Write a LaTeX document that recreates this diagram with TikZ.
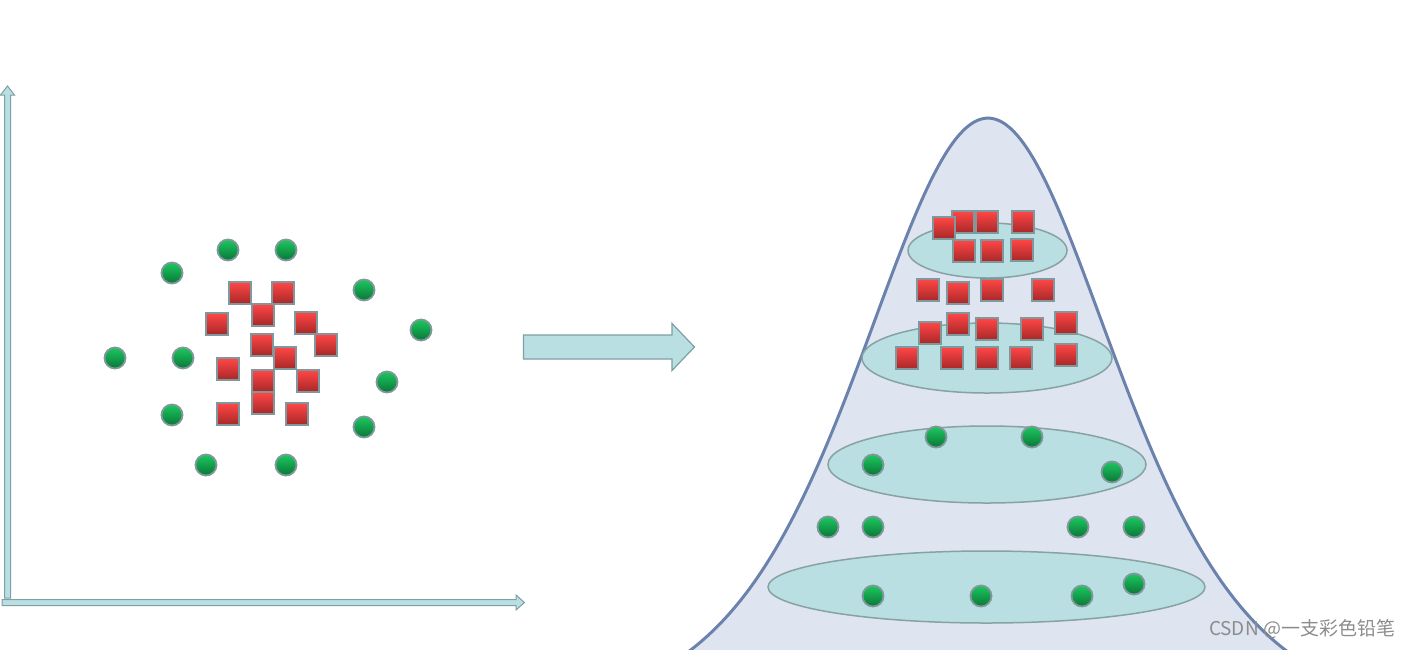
\documentclass[tikz,border=0pt]{standalone}
\usepackage{fontspec}
\newfontfamily\cjk{Noto Sans CJK SC}
\definecolor{axfill}{RGB}{185,223,226}
\definecolor{axline}{RGB}{125,160,165}
\definecolor{bellfill}{RGB}{222,228,240}
\definecolor{bellline}{RGB}{106,130,172}
\definecolor{ellfill}{RGB}{185,223,226}
\definecolor{ellline}{RGB}{135,162,162}
\definecolor{gtop}{RGB}{28,200,95}
\definecolor{gbot}{RGB}{10,118,55}
\definecolor{rtop}{RGB}{255,70,70}
\definecolor{rbot}{RGB}{168,40,40}
\definecolor{markline}{RGB}{128,152,155}
\definecolor{wm}{RGB}{140,140,140}
\tikzset{
  dot/.style={circle, minimum size=21pt, inner sep=0pt, draw=markline, line width=1.8pt, top color=gtop, bottom color=gbot},
  sq/.style={rectangle, minimum size=21.5pt, inner sep=0pt, draw=markline, line width=1.8pt, top color=rtop, bottom color=rbot},
  blockarrow/.style={fill=axfill, draw=axline, line width=1pt, line join=miter},
  ell/.style={fill=ellfill, draw=ellline, line width=1.5pt},
}
\begin{document}
\begin{tikzpicture}[x=1pt,y=-1pt]
\useasboundingbox (0,0) rectangle (1413,649);
\clip (0,0) rectangle (1413,649);
% axes
\draw[blockarrow] (4.5,598) -- (4.5,95) -- (0.5,95) -- (7.5,86) -- (14.5,95) -- (10.5,95) -- (10.5,598) -- cycle;
\draw[blockarrow] (2,599.5) -- (516,599.5) -- (516,595) -- (524.5,602.5) -- (516,610) -- (516,605.5) -- (2,605.5) -- cycle;
% left scatter: circles
\foreach \x/\y [count=\i] in {228/250,286/250,172/273,364/290,421/330,115/358,183/358,387/382,172/415,364/427,206/465,286/465}
  \node[dot] (lc\i) at (\x,\y) {};
% left scatter: squares
\foreach \x/\y [count=\i] in {240/293,283/293,263/315,217/324,306/323,326/345,262/345,285/358,228/369,263/381,308/381,263/403,228/414,297/414}
  \node[sq] (ls\i) at (\x,\y) {};
% big arrow
\draw[blockarrow, line width=1.2pt] (523.5,335) -- (672,335) -- (672,323.5) -- (694.5,347) -- (672,370.5) -- (672,359) -- (523.5,359) -- cycle;
% bell curve
\path[fill=bellfill, draw=bellline, line width=3pt]
  plot[domain=-345:345, samples=241, smooth] ({988+\x},{720-2408/((exp(\x/171)+exp(-\x/171))^2)});
% ellipses
\draw[ell] (987.5,250.5) ellipse [x radius=79.5, y radius=27.5];
\draw[ell] (987,358) ellipse [x radius=125, y radius=35];
\draw[ell] (987,464.5) ellipse [x radius=159, y radius=38.5];
\draw[ell] (986.5,587) ellipse [x radius=218.5, y radius=36];
% bell squares
\foreach \x/\y [count=\i] in {963/222,987/222,1023/222,944/228,964/251,992/251,1022/250,928/290,958/293,992/290,1043/290,958/324,930/333,987/329,1032/329,1066/323,907/358,952/358,987/358,1021/358,1066/355}
  \node[sq] (bs\i) at (\x,\y) {};
% bell circles
\foreach \x/\y [count=\i] in {936/437,1032/437,873/465,1112/472,828/527,873/527,1078/527,1134/527,873/596,981/596,1082/596,1134/584}
  \node[dot] (bc\i) at (\x,\y) {};
% watermark
\node[text=wm, font=\cjk\fontsize{19}{19}\selectfont, inner sep=0pt] (wmk) at (1302,629) {CSDN @一支彩色铅笔};
\end{tikzpicture}
\end{document}
